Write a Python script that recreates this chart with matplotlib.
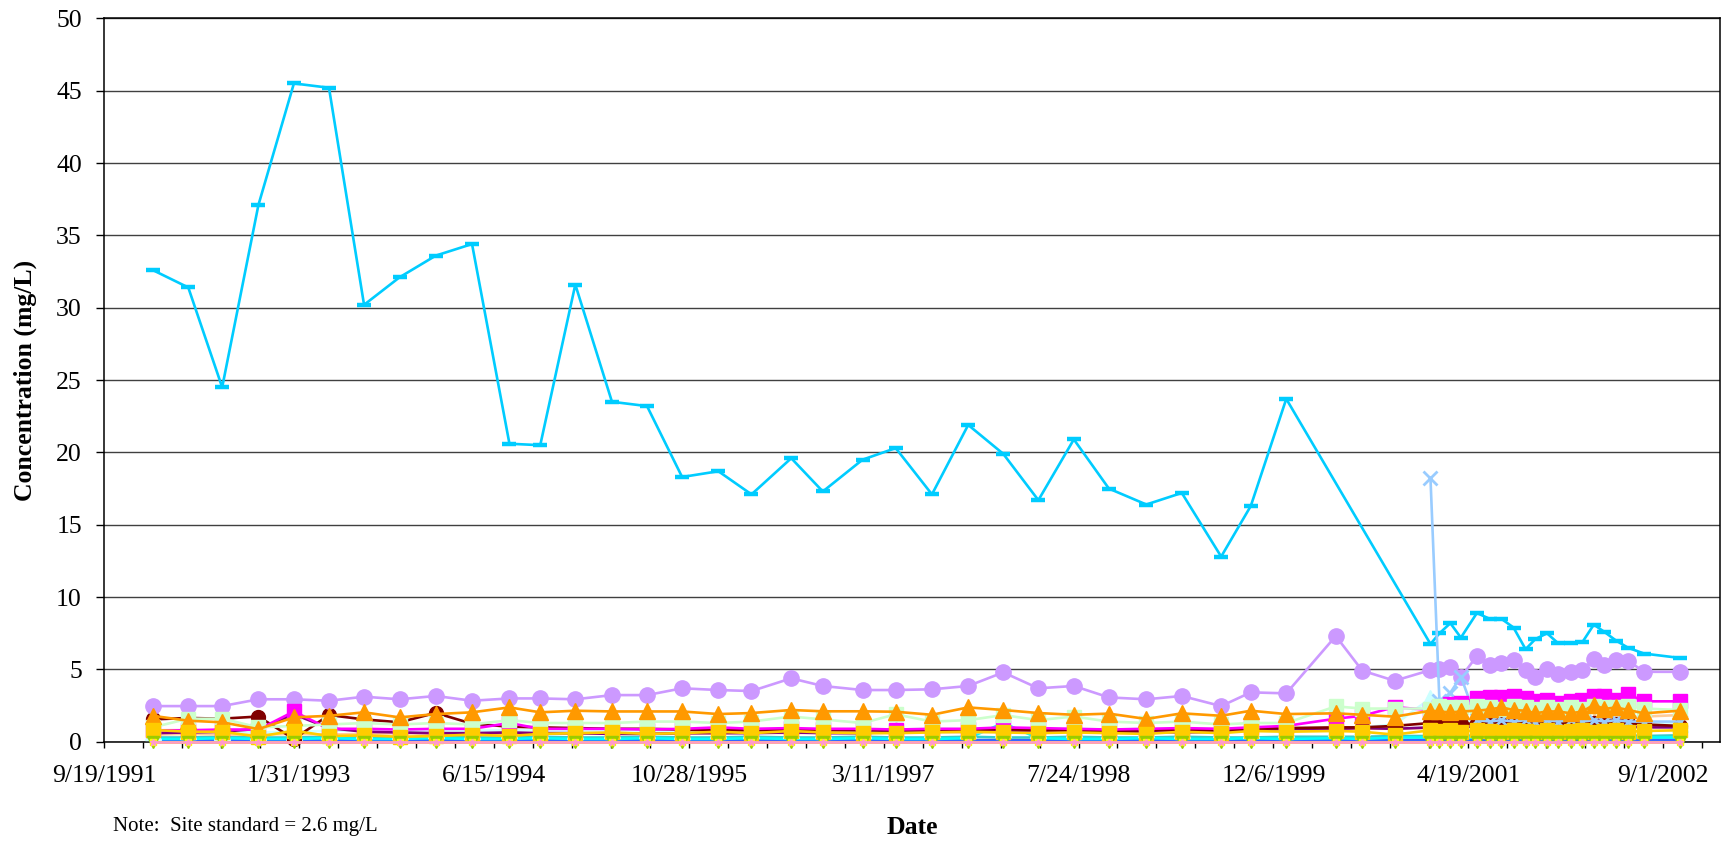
import numpy as np
import pandas as pd
import matplotlib
matplotlib.use('Agg')
import matplotlib.pyplot as plt

plt.rcParams['font.family'] = ['Liberation Serif', 'DejaVu Serif']

############### sampling dates
# quarterly sampling 1992-2000
dates_q = ['1992-01-22', '1992-04-22', '1992-07-18', '1992-10-19', '1993-01-18', '1993-04-18',
           '1993-07-17', '1993-10-16', '1994-01-17', '1994-04-20', '1994-07-25', '1994-10-12',
           '1995-01-10', '1995-04-14', '1995-07-13', '1995-10-11', '1996-01-12', '1996-04-06',
           '1996-07-17', '1996-10-06', '1997-01-16', '1997-04-11', '1997-07-13', '1997-10-14',
           '1998-01-12', '1998-04-12', '1998-07-12', '1998-10-10', '1999-01-14', '1999-04-15',
           '1999-07-25', '1999-10-09', '2000-01-08']
# extra rounds in 2000
dates_2000 = ['2000-05-14', '2000-07-21', '2000-10-12']
# monthly sampling 2001-2002
dates_m = ['2001-01-12', '2001-02-04', '2001-03-04', '2001-03-31', '2001-05-11', '2001-06-13',
           '2001-07-13', '2001-08-13', '2001-09-13', '2001-10-08', '2001-11-07', '2001-12-06',
           '2002-01-07', '2002-02-06', '2002-03-07', '2002-04-03', '2002-05-03', '2002-06-03',
           '2002-07-14', '2002-10-13']

############### concentrations (mg/L)
cyan_q = [32.6, 31.4, 24.5, 37.1, 45.5, 45.2, 30.2, 32.1, 33.6, 34.4, 20.6, 20.5, 31.6, 23.5,
          23.2, 18.3, 18.7, 17.1, 19.6, 17.3, 19.5, 20.3, 17.1, 21.9, 19.9, 16.7, 20.9, 17.5,
          16.4, 17.2, 12.8, 16.3, 23.7]
cyan_m = [6.76, 7.5, 8.2, 7.2, 8.9, 8.5, 8.5, 7.9, 6.4, 7.1, 7.5, 6.8, 6.8, 6.9, 8.1, 7.6,
          7.0, 6.5, 6.1, 5.8]

lav_q = [2.47, 2.47, 2.47, 2.94, 2.94, 2.84, 3.12, 2.94, 3.17, 2.84, 3.0, 3.0, 2.94, 3.23,
         3.23, 3.70, 3.58, 3.51, 4.39, 3.86, 3.58, 3.58, 3.63, 3.86, 4.80, 3.70, 3.86, 3.07,
         2.94, 3.17, 2.47, 3.42, 3.35]
lav_2000 = [7.31, 4.92, 4.22]
lav_m = [4.96, 5.01, 5.19, 4.46, 5.93, 5.31, 5.42, 5.65, 4.96, 4.5, 5.01, 4.68, 4.84, 4.96,
         5.70, 5.31, 5.65, 5.6, 4.84, 4.84]

orange_q = [1.8, 1.46, 1.35, 0.88, 1.69, 1.8, 2.04, 1.69, 1.92, 2.04, 2.38, 2.04, 2.15, 2.1,
            2.1, 2.1, 1.92, 1.99, 2.2, 2.11, 2.11, 2.08, 1.87, 2.38, 2.2, 1.99, 1.87, 1.95,
            1.58, 1.97, 1.8, 2.15, 1.92]
orange_2000 = [1.97, 1.87, 1.74]
orange_m = [2.15, 2.1, 2.03, 2.1, 2.15, 2.24, 2.38, 2.2, 2.15, 1.97, 2.1, 2.1, 1.97, 2.1,
            2.56, 2.27, 2.38, 2.2, 1.97, 2.15]

gold_q = [0.82, 0.7, 0.7, 0.36, 0.77, 0.4, 0.45, 0.35, 0.4, 0.5, 0.4, 0.55, 0.6, 0.65, 0.55,
          0.6, 0.7, 0.6, 0.75, 0.65, 0.6, 0.6, 0.65, 0.7, 0.65, 0.6, 0.65, 0.6, 0.55, 0.7,
          0.6, 0.75, 0.7]
gold_2000 = [0.75, 0.7, 0.5]
gold_m = [0.8, 0.75, 0.8, 0.7, 0.8, 0.75, 0.7, 0.8, 0.75, 0.7, 0.8, 0.7, 0.75, 0.8, 0.7,
          0.75, 0.8, 0.7, 0.75, 0.8]

green_q = [1.0, 1.6, 1.6, 1.0, 1.1, 1.2, 1.3, 1.2, 1.3, 1.2, 1.5, 1.3, 1.3, 1.3, 1.4, 1.4,
           1.3, 1.4, 1.75, 1.55, 1.3, 1.9, 1.4, 1.5, 1.85, 1.5, 1.75, 1.4, 1.3, 1.4, 1.2,
           1.3, 1.3]
green_2000 = [2.45, 2.3, 2.3]
green_m = [2.3, 2.5, 2.4, 2.4, 2.5, 2.4, 2.3, 2.5, 2.4, 2.3, 2.4, 2.3, 2.4, 2.3, 2.5, 2.4,
           2.4, 2.5, 2.3, 2.2]

magenta_q = [0.8, 0.8, 0.85, 0.85, 2.1, 0.9, 0.9, 0.85, 0.9, 0.9, 1.3, 0.9, 0.9, 0.9, 0.85,
             0.9, 1.0, 0.9, 0.95, 0.9, 0.9, 0.85, 0.9, 0.9, 1.0, 0.95, 0.9, 0.85, 0.9, 0.95,
             0.9, 1.0, 1.1]
magenta_2000 = [1.6, 1.8, 2.4]
magenta_m = [2.2, 2.4, 2.6, 2.7, 3.0, 3.1, 3.1, 3.2, 3.0, 2.8, 2.9, 2.7, 2.8, 2.9, 3.2, 3.2,
             2.9, 3.3, 2.8, 2.8]

maroon_q = [1.55, 1.65, 1.6, 1.75, 0.2, 1.85, 1.55, 1.35, 2.0, 1.25, 1.05, 1.0, 0.95, 0.9,
            0.9, 0.85, 0.8, 0.8, 0.85, 0.8, 0.8, 0.8, 0.85, 0.8, 0.9, 0.8, 0.8, 0.75, 0.8,
            0.85, 0.8, 0.9, 0.95]
maroon_2000 = [1.0, 1.0, 1.1]
maroon_m = [1.3, 1.2, 1.3, 1.2, 1.3, 1.3, 1.2, 1.3, 1.2, 1.3, 1.3, 1.2, 1.3, 1.2, 1.3, 1.3,
            1.2, 1.3, 1.2, 1.1]

dpurple_q = [0.6, 0.65, 0.7, 0.9, 1.9, 0.95, 0.7, 0.65, 0.6, 0.6, 0.65, 0.6, 0.6, 0.55, 0.55,
             0.6, 0.6, 0.6, 0.65, 0.6, 0.6, 0.7, 0.7, 0.7, 0.75, 0.7, 0.75, 0.7, 0.7, 0.65,
             0.7, 0.8, 0.9]
dpurple_2000 = [0.9, 0.95, 0.9]
dpurple_m = [1.0, 1.05, 1.0, 1.1, 1.0, 1.05, 1.0, 1.1, 1.0, 1.05, 1.0, 1.05, 1.1, 1.0, 1.05,
             1.0, 1.1, 1.05, 1.0, 1.0]

pale_q = [0.7, 0.75, 0.7, 0.65, 0.7, 0.75, 0.8, 0.75, 0.8, 0.75, 0.8, 0.8, 0.75, 0.8, 0.8,
          0.75, 0.8, 0.85, 0.8, 0.85, 0.8, 0.85, 0.9, 0.85, 0.9, 0.85, 0.9, 0.85, 0.9, 0.85,
          0.9, 0.85, 0.9]
pale_2000 = [0.95, 1.0, 1.2]
pale_m = [3.0, 2.6, 2.2, 1.5, 1.3, 1.3, 1.2, 1.3, 1.2, 1.3, 1.2, 1.3, 1.2, 1.3, 1.2, 1.3,
          1.2, 1.3, 1.2, 1.2]

ltblue_m = [18.2, 2.8, 3.4, 4.5, 1.5, 1.4, 1.5, 1.4, 1.5, 1.4, 1.5, 1.4, 1.5, 1.4, 1.5, 1.4,
            1.5, 1.4, 1.4, 1.4]

peach_q = [0.5, 0.55, 0.5, 0.5, 0.55, 0.5, 0.55, 0.6, 0.55, 0.6, 0.55, 0.6, 0.55, 0.6, 0.6,
           0.55, 0.6, 0.65, 0.6, 0.65, 0.6, 0.65, 0.7, 0.65, 0.7, 0.65, 0.7, 0.75, 0.7, 0.75,
           0.8, 0.8, 0.85]
peach_2000 = [0.85, 0.9, 0.9]
peach_m = [0.95, 1.0, 1.05, 1.1, 1.15, 1.2, 1.25, 1.3, 1.3, 1.35, 1.4, 1.45, 1.5, 1.5, 1.55,
           1.6, 1.65, 1.7, 1.75, 1.85]

teal_q = [0.3, 0.3, 0.35, 0.3, 0.3, 0.35, 0.3, 0.3, 0.35, 0.3, 0.3, 0.35, 0.3, 0.3, 0.35,
          0.3, 0.3, 0.35, 0.3, 0.3, 0.35, 0.3, 0.3, 0.35, 0.3, 0.3, 0.35, 0.3, 0.3, 0.35,
          0.3, 0.3, 0.35]
teal_2000 = [0.35, 0.35, 0.4]
teal_m = [0.4, 0.45, 0.4, 0.45, 0.4, 0.45, 0.4, 0.45, 0.4, 0.45, 0.4, 0.45, 0.4, 0.45, 0.4,
          0.45, 0.4, 0.45, 0.4, 0.45]

cyan2_q = [0.2, 0.2, 0.25, 0.2, 0.2, 0.25, 0.2, 0.2, 0.25, 0.2, 0.2, 0.25, 0.2, 0.2, 0.25,
           0.2, 0.2, 0.25, 0.2, 0.2, 0.25, 0.2, 0.2, 0.25, 1.3, 0.25, 0.2, 0.2, 0.25, 0.2,
           0.2, 0.25, 0.2]
cyan2_2000 = [0.25, 0.2, 0.3]
cyan2_m = [0.3, 0.25, 0.3, 0.25, 0.3, 0.25, 0.3, 0.25, 0.3, 0.25, 0.3, 0.25, 0.3, 0.25, 0.3,
           0.25, 0.3, 0.25, 0.3, 0.3]

blue_q = [0.12] * 33
blue_2000 = [0.12, 0.12, 0.12]
blue_m = [0.15] * 20

zero_q = [0.0] * 33
zero_2000 = [0.0, 0.0, 0.0]
zero_m = [0.0] * 20

fig = plt.figure(figsize=(17.26, 8.43), dpi=100)
ax = fig.add_axes([0.0603, 0.12, 0.9365, 0.8583])


def serie(datas, valores, cor, marcador, ms, lw=1.9, mew=1.0, z=2):
    ax.plot(pd.to_datetime(datas), valores, color=cor, marker=marcador, ms=ms,
            mfc=cor, mec=cor, mew=mew, lw=lw, clip_on=False, zorder=z)


all_dates = dates_q + dates_2000 + dates_m

# back to front
serie(dates_q + dates_m, cyan_q + cyan_m, '#00CCFF', '_', 10, mew=3.2, z=2)
serie(all_dates, blue_q + blue_2000 + blue_m, '#3366FF', 's', 4, z=3)
serie(all_dates, teal_q + teal_2000 + teal_m, '#33CCCC', 'o', 4, z=3)
serie(all_dates, cyan2_q + cyan2_2000 + cyan2_m, '#00FFFF', '^', 5, z=3)
serie(all_dates, peach_q + peach_2000 + peach_m, '#FFCC99', '|', 9, mew=2, z=3)
serie(all_dates, pale_q + pale_2000 + pale_m, '#CCFFFF', '^', 11, z=3)
serie(all_dates, dpurple_q + dpurple_2000 + dpurple_m, '#800080', '*', 6, z=4)
serie(all_dates, maroon_q + maroon_2000 + maroon_m, '#800000', 'o', 10, z=4)
serie(all_dates, lav_q + lav_2000 + lav_m, '#CC99FF', 'o', 11, z=5)
serie(dates_m, ltblue_m, '#99CCFF', 'x', 10, mew=2, z=5)
serie(all_dates, magenta_q + magenta_2000 + magenta_m, '#FF00FF', 's', 10, z=6)
serie(all_dates, green_q + green_2000 + green_m, '#CCFFCC', 's', 10, z=6)
serie(all_dates, orange_q + orange_2000 + orange_m, '#FF9900', '^', 11, z=7)
serie(all_dates, gold_q + gold_2000 + gold_m, '#FFCC00', 's', 10.5, z=8)
serie(all_dates, zero_q + zero_2000 + zero_m, '#99CC00', 'v', 8, z=8)
serie(all_dates, zero_q + zero_2000 + zero_m, '#FFFF00', 's', 4, z=8)
serie(all_dates, zero_q + zero_2000 + zero_m, '#FF99CC', '*', 5, z=8)

# axes
inicio = pd.Timestamp('1991-09-19')
ax.set_xlim(inicio, inicio + pd.Timedelta(days=4147))
ax.set_ylim(0, 50)
ticks = pd.date_range(inicio, periods=42, freq='100D')
ax.set_xticks(ticks)
ax.set_xticklabels([f'{d.month}/{d.day}/{d.year}' if i % 5 == 0 else ''
                    for i, d in enumerate(ticks)])
ax.set_yticks(np.arange(0, 51, 5))
ax.tick_params(axis='x', direction='out', length=4.5, width=1, labelsize=18.5, pad=12)
ax.tick_params(axis='y', direction='out', length=6, width=1, labelsize=18.5, pad=10)
ax.yaxis.grid(True, color='#404040', lw=1.0)
ax.set_axisbelow(True)
for s in ax.spines.values():
    s.set_color('black')
    s.set_linewidth(1.1)

ax.set_ylabel('Concentration (mg/L)', fontsize=18.5, fontweight='bold', va='center')
ax.yaxis.set_label_coords(-0.049, 0.5)
ax.set_xlabel('Date', fontsize=18.5, fontweight='bold', va='center')
ax.xaxis.set_label_coords(0.5, -0.119)
fig.text(113 / 1726, 1 - 831 / 843, 'Note:  Site standard = 2.6 mg/L', fontsize=15,
         ha='left', va='baseline')

plt.savefig('out.png', dpi=100)
